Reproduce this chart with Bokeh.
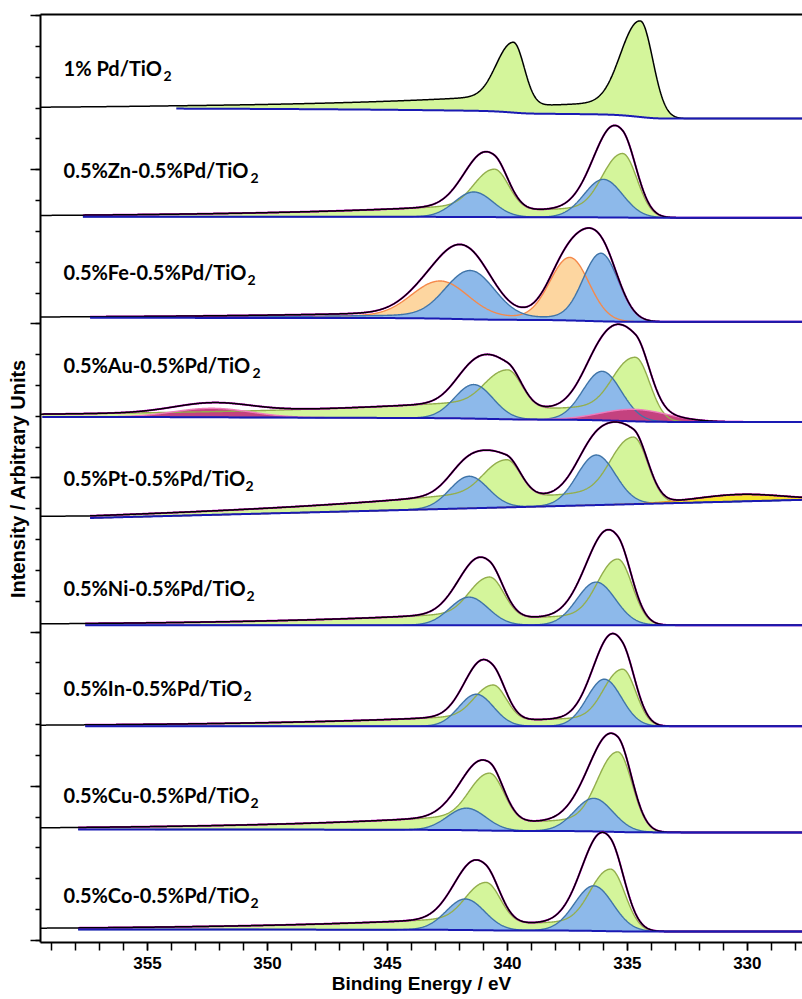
import numpy as np
from bokeh.plotting import figure
from bokeh.models import Range1d, FixedTicker, LinearAxis
from bokeh.core.properties import value
from bokeh.embed import file_html
from bokeh.resources import INLINE

# ---------------- data ----------------
sample_labels = ["1% Pd/TiO", "0.5%Zn-0.5%Pd/TiO", "0.5%Fe-0.5%Pd/TiO",
                 "0.5%Au-0.5%Pd/TiO", "0.5%Pt-0.5%Pd/TiO", "0.5%Ni-0.5%Pd/TiO",
                 "0.5%In-0.5%Pd/TiO", "0.5%Cu-0.5%Pd/TiO", "0.5%Co-0.5%Pd/TiO"]
label_sub = "2"
label_level = [872, 770, 668, 575, 462, 352, 252, 145, 45]

# background (Shirley + linear) per spectrum, intensity in arbitrary units
bg_low = [821, 722, 618, 518, 440, 315, 214, 108, 9]        # value at 328 eV
bg_slope = [0, 0, 0, 0, -0.61, 0, 0, 0, 0]                  # per eV
bg_step = [10, 1, 4, 5, 0, 0, 0, 3, 2]                      # Shirley step
fit_start = [353.8, 357.7, 357.4, 359.4, 357.4, 357.6, 357.6, 357.9, 357.9]

# fitted components: spectrum index, species, centre (eV), height, widths, tail
comp_panel = [0, 0,
              1, 1, 1, 1,
              2, 2, 2, 2,
              3, 3, 3, 3, 3, 3,
              4, 4, 4, 4, 4,
              5, 5, 5, 5,
              6, 6, 6, 6,
              7, 7, 7, 7,
              8, 8, 8, 8]
comp_kind = ["Pd0", "Pd0",
             "Pd0", "PdO", "Pd0", "PdO",
             "FeX", "PdO", "FeX", "PdO",
             "PdO", "Pd0", "PdO", "Pd0", "Au4d", "Au4d",
             "PdO", "Pd0", "PdO", "Pd0", "PtX",
             "PdO", "Pd0", "PdO", "Pd0",
             "PdO", "Pd0", "PdO", "Pd0",
             "PdO", "Pd0", "PdO", "Pd0",
             "PdO", "Pd0", "PdO", "Pd0"]
comp_center = [339.75, 334.46,
               340.55, 341.40, 335.20, 336.00,
               342.80, 341.55, 337.40, 336.10,
               341.40, 340.00, 336.05, 334.67, 334.70, 352.30,
               341.60, 340.05, 336.30, 334.75, 330.30,
               341.60, 340.75, 336.30, 335.40,
               341.30, 340.60, 335.96, 335.20,
               341.70, 340.75, 336.40, 335.40,
               341.75, 340.90, 336.40, 335.70]
comp_height = [63, 96,
               42, 25, 64, 38,
               36, 47, 63, 68,
               34, 40, 49, 64, 12, 9,
               32, 39, 50, 67, 7,
               28, 42, 43, 66,
               32, 36, 47, 57,
               22, 50, 33, 80,
               31, 42, 45, 62]
comp_sig_lo = [0.45, 0.52,
               0.60, 0.80, 0.60, 0.80,
               1.15, 1.00, 0.80, 0.72,
               0.80, 0.60, 0.80, 0.60, 1.40, 1.60,
               0.80, 0.60, 0.80, 0.60, 1.80,
               0.80, 0.60, 0.80, 0.60,
               0.72, 0.55, 0.72, 0.55,
               0.80, 0.60, 0.80, 0.60,
               0.80, 0.60, 0.80, 0.60]
comp_sig_hi = [0.65, 0.75,
               0.75, 0.80, 0.75, 0.80,
               1.15, 1.00, 0.80, 0.72,
               0.80, 0.80, 0.80, 0.80, 1.40, 1.60,
               0.80, 0.80, 0.80, 0.80, 1.80,
               0.80, 0.75, 0.80, 0.75,
               0.72, 0.70, 0.72, 0.70,
               0.80, 0.75, 0.80, 0.75,
               0.80, 0.75, 0.80, 0.75]
comp_tail = [0.146, 0.146,
             0.18, 0, 0.18, 0,
             0.05, 0.05, 0.05, 0.05,
             0, 0.25, 0, 0.25, 0, 0,
             0, 0.25, 0, 0.25, 0,
             0, 0.18, 0, 0.18,
             0, 0.18, 0, 0.18,
             0, 0.18, 0, 0.18,
             0, 0.18, 0, 0.18]
comp_tail_len = [8, 8,
                 8, 8, 8, 8,
                 8, 8, 8, 8,
                 8, 10, 8, 10, 8, 8,
                 8, 8, 8, 8, 8,
                 8, 8, 8, 8,
                 8, 8, 8, 8,
                 8, 8, 8, 8,
                 8, 8, 8, 8]

x_ticks = [330, 335, 340, 345, 350, 355]

# ---------------- styles ----------------
fill_col = {"Pd0": "#d4f59b", "PdO": "#8db9ea", "FeX": "#fdd6a0",
            "Au4d": "#c4427f", "PtX": "#f6e42a"}
line_col = {"Pd0": "#93ae4c", "PdO": "#3f74a8", "FeX": "#f5894a",
            "Au4d": "#f07cbc", "PtX": "#e8a020"}
draw_order = ["Pd0", "FeX", "PdO", "Au4d", "PtX"]

X_LO, X_HI = 327.7, 359.46
xg = np.linspace(X_LO, X_HI, 1600)


def peak(x, c, h, slo, shi, a, L):
    d = x - c
    s = np.where(d > 0, shi, slo)
    g = np.exp(-0.5 * (d / s) ** 2)
    t = np.where(d > 0, np.exp(-d / L) * (1 - np.exp(-(d / shi) ** 2)), 0.0)
    return h * (g + a * t)


p = figure(width=802, height=999, output_backend="svg", toolbar_location=None,
           x_range=Range1d(X_HI, X_LO), y_range=Range1d(-2, 925),
           min_border_left=40, min_border_right=0, min_border_top=14,
           min_border_bottom=57)
p.xgrid.visible = False
p.ygrid.visible = False
p.outline_line_color = None
p.background_fill_color = "white"
p.border_fill_color = "white"

for i in range(len(sample_labels)):
    idx = [k for k in range(len(comp_panel)) if comp_panel[k] == i]
    kinds = {}
    for k in idx:
        cv = peak(xg, comp_center[k], comp_height[k], comp_sig_lo[k],
                  comp_sig_hi[k], comp_tail[k], comp_tail_len[k])
        kinds[comp_kind[k]] = kinds.get(comp_kind[k], 0) + cv
    total = sum(kinds.values())
    inside = xg <= fit_start[i]
    seg = np.where(inside, total, 0.0)
    cum = np.concatenate([[0], np.cumsum(0.5 * (seg[1:] + seg[:-1]) * np.diff(xg))])
    cum = np.minimum(cum / cum[inside][-1], 1.0)
    bg = bg_low[i] + bg_slope[i] * (np.minimum(xg, fit_start[i]) - 328.0) + bg_step[i] * cum
    xf = xg[inside]
    bgf = bg[inside]
    for kd in draw_order:
        if kd in kinds:
            p.varea(x=xf, y1=bgf, y2=bgf + kinds[kd][inside],
                    fill_color=fill_col[kd], fill_alpha=1.0)
    if i > 0:
        for kd in draw_order:
            if kd in kinds:
                p.line(xf, bgf + kinds[kd][inside], line_color=line_col[kd], line_width=1.4)
        p.line(xf, bgf + total[inside], line_color="#cc00cc", line_width=2.0)
    p.line(xg, bg + total, line_color="black", line_width=1.5)
    p.line(xf, bgf, line_color="#1a1ab4", line_width=2)

for i in range(len(sample_labels)):
    p.text(x=[358.5], y=[label_level[i]], text=[sample_labels[i]],
           text_font=value("Lato"), text_font_style="bold", text_font_size="20px",
           text_baseline="middle", text_align="left", text_color="black")

# subscripts: positioned after each label
sub_dx = [100, 187, 184, 189, 182, 183, 180, 187, 187]
for i in range(len(sample_labels)):
    p.text(x=[358.5], y=[label_level[i]], text=[label_sub], x_offset=sub_dx[i], y_offset=8,
           text_font=value("Lato"), text_font_style="bold", text_font_size="14px",
           text_baseline="middle", text_align="left", text_color="black")

# axes
xa = p.xaxis[0]
xa.ticker = FixedTicker(ticks=x_ticks, minor_ticks=list(range(328, 360)))
xa.axis_label = "Binding Energy / eV"
xa.axis_label_text_font = "Liberation Sans"
xa.axis_label_text_font_style = "bold"
xa.axis_label_text_font_size = "19px"
xa.axis_label_text_color = "black"
xa.axis_label_standoff = 1
xa.major_label_text_font = "Liberation Sans"
xa.major_label_text_font_style = "bold"
xa.major_label_text_font_size = "17px"
xa.major_label_text_color = "black"
xa.major_label_standoff = 6
xa.axis_line_width = 2
xa.major_tick_line_width = 1.5
xa.minor_tick_line_width = 1.5
xa.major_tick_out = 8
xa.major_tick_in = 0
xa.minor_tick_out = 8
xa.minor_tick_in = 0

ya = p.yaxis[0]
ya.ticker = FixedTicker(ticks=[0, 154, 308, 462, 616, 770, 924],
                        minor_ticks=[round(30.8 * k, 1) for k in range(31)])
ya.axis_label = "Intensity / Arbitrary Units"
ya.axis_label_text_font = "Liberation Sans"
ya.axis_label_text_font_style = "bold"
ya.axis_label_text_font_size = "20px"
ya.axis_label_text_color = "black"
ya.axis_label_standoff = 2
ya.major_label_text_font_size = "1px"
ya.major_label_text_color = None
ya.major_label_standoff = 0
ya.axis_line_width = 2
ya.major_tick_line_width = 1.5
ya.minor_tick_line_width = 1.5
ya.major_tick_out = 10
ya.major_tick_in = 0
ya.minor_tick_out = 5
ya.minor_tick_in = 0

top = LinearAxis(ticker=FixedTicker(ticks=[]), major_label_text_font_size="1px",
                 major_label_text_color=None,
                 major_label_standoff=0, axis_line_width=2, major_tick_out=0,
                 major_tick_in=0, minor_tick_out=0, minor_tick_in=0)
p.add_layout(top, "above")

open("out.html", "w").write(file_html(p, INLINE))
